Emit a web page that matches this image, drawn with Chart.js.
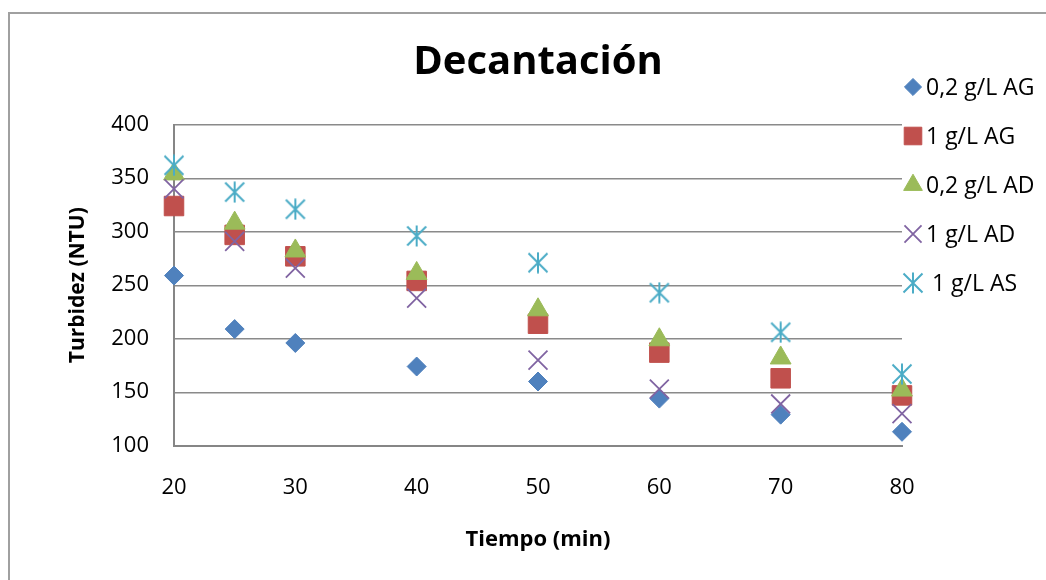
<!DOCTYPE html>
<html>
<head>
<meta charset="utf-8">
<title>Decantación</title>
<script src="https://cdn.jsdelivr.net/npm/chart.js@4.4.1/dist/chart.umd.min.js"></script>
<style>
  html, body { margin: 0; padding: 0; background: #fff; }
</style>
</head>
<body>
<canvas id="chart" width="1046" height="580"></canvas>
<script>
// Tiempo (min) en el eje x
const tiempos = [20, 25, 30, 40, 50, 60, 70, 80];

// Turbidez (NTU) por serie
const ag02 = [259, 209, 196, 174, 160, 144, 129, 113];
const ag1  = [324, 297, 277, 254, 214, 187, 163, 147];
const ad02 = [354, 308, 282, 261, 227, 199, 182, 152];
const ad1  = [340, 291, 266, 238, 180, 153, 139, 130];
const as1  = [362, 337, 321, 296, 271, 243, 206, 167];

const seriesNames = ['0,2 g/L AG', '1 g/L AG', '0,2 g/L AD', '1 g/L AD', ' 1 g/L AS'];

const xRange = [20, 80];
const yRange = [100, 400];

const FONT = '"Open Sans", "DejaVu Sans", sans-serif';

// Excel-style star marker: an x with a vertical stroke
function starMarker(color) {
  const c = document.createElement('canvas');
  c.width = 22;
  c.height = 22;
  const g = c.getContext('2d');
  g.strokeStyle = color;
  g.lineWidth = 2;
  g.beginPath();
  g.moveTo(1.5, 1.5); g.lineTo(20.5, 20.5);
  g.moveTo(20.5, 1.5); g.lineTo(1.5, 20.5);
  g.moveTo(11, 0.5); g.lineTo(11, 21.5);
  g.stroke();
  return c;
}

const toPoints = vals => vals.map((v, i) => ({ x: tiempos[i], y: v }));

const styles = [
  { color: '#4F81BD', pointStyle: 'rectRot', radius: 9.5, borderWidth: 1 },
  { color: '#C0504D', pointStyle: 'rect', radius: 13.8, borderWidth: 1 },
  { color: '#9BBB59', pointStyle: 'triangle', radius: 12, borderWidth: 1 },
  { color: '#8064A2', pointStyle: 'crossRot', radius: 13.4, borderWidth: 1.8 },
  { color: '#4BACC6', pointStyle: starMarker('#4BACC6'), radius: 11, borderWidth: 0 }
];

// later series are painted on top, like Excel does
const datasets = [ag02, ag1, ad02, ad1, as1].map((vals, i) => ({
  label: seriesNames[i],
  data: toPoints(vals),
  order: 4 - i,
  showLine: false,
  clip: false,
  pointStyle: styles[i].pointStyle,
  pointRadius: styles[i].radius,
  pointHoverRadius: styles[i].radius,
  backgroundColor: styles[i].color,
  borderColor: styles[i].color,
  borderWidth: styles[i].borderWidth
}));

// white background + outer frame of the chart object
const framePlugin = {
  id: 'frame',
  beforeDraw(chart) {
    const ctx = chart.ctx;
    ctx.save();
    ctx.fillStyle = '#fff';
    ctx.fillRect(0, 0, chart.width, chart.height);
    ctx.strokeStyle = '#a0a0a0';
    ctx.lineWidth = 2;
    ctx.strokeRect(9, 13, 1200, 800);
    ctx.restore();
  }
};

// legend on the right, drawn with the datasets' own point styles
const sideLegend = {
  id: 'sideLegend',
  afterDraw(chart) {
    const ctx = chart.ctx;
    const x0 = chart.chartArea.right + 11;
    ctx.save();
    ctx.font = '23px ' + FONT;
    ctx.textBaseline = 'middle';
    ctx.textAlign = 'left';
    chart.data.datasets.forEach((ds, i) => {
      const y = 87 + i * 49;
      ctx.fillStyle = ds.backgroundColor;
      ctx.strokeStyle = ds.borderColor;
      ctx.lineWidth = ds.borderWidth;
      Chart.helpers.drawPoint(ctx, {
        pointStyle: ds.pointStyle,
        radius: ds.pointRadius * 0.9,
        borderWidth: ds.borderWidth,
        rotation: 0
      }, x0, y);
      ctx.fillStyle = '#000';
      ctx.fillText(ds.label, x0 + 13, y + 1);
    });
    ctx.restore();
  }
};

new Chart(document.getElementById('chart'), {
  type: 'scatter',
  data: { datasets },
  options: {
    responsive: false,
    devicePixelRatio: 1,
    animation: false,
    layout: { padding: { left: 0, right: 144, top: 0, bottom: 0 } },
    plugins: {
      legend: { display: false },
      tooltip: { enabled: false },
      title: {
        display: true,
        fullSize: false,
        text: 'Decantación',
        color: '#000',
        font: { family: FONT, size: 40, weight: 'bold' },
        padding: { top: 39, bottom: 37.7 }
      }
    },
    scales: {
      x: {
        type: 'linear',
        min: xRange[0],
        max: xRange[1],
        afterFit: s => { s.height = 134.3; },
        ticks: {
          stepSize: 10,
          color: '#000',
          padding: 29,
          font: { family: FONT, size: 22 }
        },
        grid: { display: false, drawTicks: false },
        border: { display: true, color: '#868686', width: 2 },
        title: {
          display: true,
          text: 'Tiempo (min)',
          color: '#000',
          font: { family: FONT, size: 22, weight: 'bold' },
          padding: { top: 0, bottom: 27 }
        }
      },
      y: {
        min: yRange[0],
        max: yRange[1],
        afterFit: s => { s.width = 174; },
        ticks: {
          stepSize: 50,
          color: '#000',
          padding: 25,
          font: { family: FONT, size: 22 }
        },
        grid: { color: '#8a8a8a', lineWidth: 1.4, drawTicks: false, tickLength: 0 },
        border: { display: true, color: '#868686', width: 2 },
        title: {
          display: true,
          text: 'Turbidez (NTU)',
          color: '#000',
          font: { family: FONT, size: 21, weight: 'bold' },
          padding: { top: 65, bottom: 0 }
        }
      }
    }
  },
  plugins: [framePlugin, sideLegend]
});
</script>
</body>
</html>
